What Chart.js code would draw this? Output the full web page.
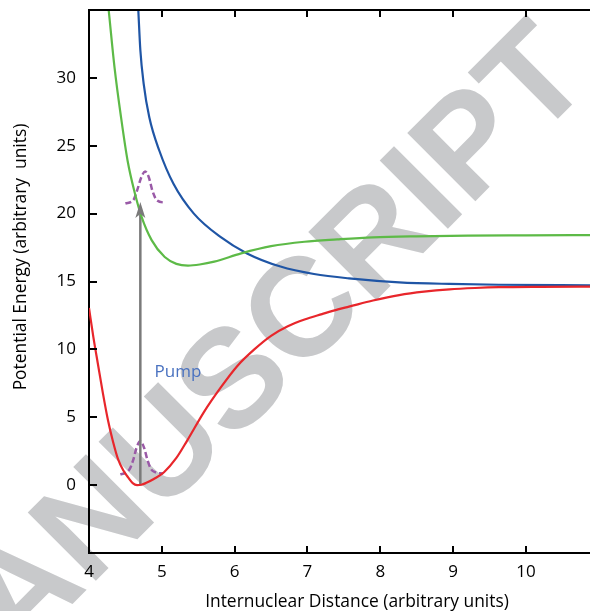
<!DOCTYPE html>
<html>
<head>
<meta charset="utf-8">
<script src="https://cdn.jsdelivr.net/npm/chart.js@4.4.1/dist/chart.umd.min.js"></script>
<style>
  html, body { margin: 0; padding: 0; background: #fff; }
  #wrap { width: 590px; height: 611px; }
</style>
</head>
<body>
<div id="wrap"><canvas id="chart"></canvas></div>
<script>
// Axis ticks
const xTicks = [4, 5, 6, 7, 8, 9, 10];
const yTicks = [0, 5, 10, 15, 20, 25, 30];

// Ground state (red)
const redX = [4.0, 4.06, 4.12, 4.19, 4.26, 4.33, 4.40, 4.47, 4.54, 4.60, 4.66, 4.72, 4.78, 4.89, 5.03, 5.2, 5.35, 5.58, 5.81, 6.04, 6.27, 6.50, 6.73, 6.96, 7.20, 7.42, 7.57, 7.9, 8.26, 8.6, 8.95, 9.3, 9.63, 10.2, 10.88];
const redY = [13.05, 10.9, 9.0, 6.8, 4.8, 3.2, 1.9, 1.1, 0.55, 0.15, 0.0, 0.03, 0.15, 0.45, 0.95, 2.0, 3.3, 5.4, 7.2, 8.8, 10.0, 11.0, 11.7, 12.2, 12.6, 12.95, 13.15, 13.6, 14.0, 14.25, 14.42, 14.52, 14.58, 14.61, 14.62];

// Excited state, bound (green)
const greenX = [4.25, 4.27, 4.35, 4.44, 4.53, 4.63, 4.72, 4.86, 5.04, 5.20, 5.36, 5.52, 5.72, 6.09, 6.50, 6.96, 7.41, 7.9, 8.5, 9.2, 10.0, 10.88];
const greenY = [36.0, 35.0, 30.8, 27.1, 23.9, 21.5, 19.8, 18.05, 16.8, 16.3, 16.17, 16.25, 16.46, 17.07, 17.6, 17.93, 18.1, 18.25, 18.33, 18.38, 18.4, 18.42];

// Excited state, repulsive (blue)
const blueX = [4.665, 4.677, 4.705, 4.75, 4.828, 4.965, 5.16, 5.44, 5.80, 6.17, 6.63, 7.09, 7.57, 8.26, 8.95, 9.63, 10.88];
const blueY = [36.3, 35.0, 32.05, 29.6, 27.1, 24.65, 22.2, 20.0, 18.3, 17.07, 16.1, 15.55, 15.23, 14.94, 14.82, 14.76, 14.72];

// Wavepackets (purple dashed)
const packetLowX = [4.43, 4.50, 4.56, 4.61, 4.65, 4.705, 4.76, 4.80, 4.85, 4.91, 5.02];
const packetLowY = [0.8, 0.9, 1.2, 1.9, 2.7, 3.25, 2.7, 1.9, 1.2, 0.95, 0.85];
const packetUpX = [4.50, 4.61, 4.66, 4.72, 4.77, 4.82, 4.87, 4.93, 5.05];
const packetUpY = [20.75, 21.0, 21.7, 22.7, 23.1, 22.7, 21.7, 21.0, 20.8];

// Pump arrow
const arrowX = 4.705;
const arrowFrom = 0;
const arrowTo = 20.85;

const pumpLabel = { text: "Pump", x: 4.9, y: 8.0 };

const FONT = '"Open Sans", "Noto Sans", sans-serif';

function pts(xs, ys) {
  return xs.map((x, i) => ({ x: x, y: ys[i] }));
}

// Watermark behind everything
const watermark = {
  id: "watermark",
  beforeDraw(chart) {
    const ctx = chart.ctx;
    ctx.save();
    ctx.translate(238, 384);
    ctx.rotate(-45 * Math.PI / 180);
    ctx.fillStyle = "#c8c9cb";
    ctx.font = 'bold 140px "Liberation Sans", Arial, sans-serif';
    ctx.textAlign = "center";
    ctx.textBaseline = "middle";
    ctx.fillText("MANUSCRIPT", 0, 0);
    ctx.restore();
  },
};

// Frame, inward ticks, arrow, labels
const decorations = {
  id: "decorations",
  afterDraw(chart) {
    const ctx = chart.ctx;
    const a = chart.chartArea;
    const xs = chart.scales.x;
    const ys = chart.scales.y;
    ctx.save();
    ctx.strokeStyle = "#000";
    ctx.lineWidth = 2;

    // top border
    ctx.beginPath();
    ctx.moveTo(a.left - 1, a.top);
    ctx.lineTo(a.right, a.top);
    ctx.stroke();

    // inward ticks
    ctx.beginPath();
    xTicks.forEach((v) => {
      if (v === xTicks[0]) return;
      const px = Math.round(xs.getPixelForValue(v));
      ctx.moveTo(px, a.bottom);
      ctx.lineTo(px, a.bottom - 7);
      ctx.moveTo(px, a.top);
      ctx.lineTo(px, a.top + 7);
    });
    yTicks.forEach((v) => {
      const py = Math.round(ys.getPixelForValue(v));
      ctx.moveTo(a.left, py);
      ctx.lineTo(a.left + 8, py);
    });
    ctx.stroke();

    // arrowhead
    const ax = xs.getPixelForValue(arrowX);
    const tip = ys.getPixelForValue(arrowTo);
    ctx.fillStyle = "#7a7a7a";
    ctx.beginPath();
    ctx.moveTo(ax, tip);
    ctx.lineTo(ax + 5, tip + 16);
    ctx.lineTo(ax, tip + 12);
    ctx.lineTo(ax - 5, tip + 16);
    ctx.closePath();
    ctx.fill();

    // pump label
    ctx.fillStyle = "#4a72c0";
    ctx.font = "17px " + FONT;
    ctx.textAlign = "left";
    ctx.textBaseline = "alphabetic";
    ctx.fillText(pumpLabel.text, xs.getPixelForValue(pumpLabel.x), ys.getPixelForValue(pumpLabel.y));

    // axis titles
    ctx.fillStyle = "#000";
    ctx.font = "17.4px " + FONT;
    ctx.textAlign = "center";
    ctx.textBaseline = "middle";
    ctx.fillText("Internuclear Distance (arbitrary units)", 357, 602);
    ctx.save();
    ctx.translate(21, 257);
    ctx.rotate(-Math.PI / 2);
    ctx.fillText("Potential Energy (arbitrary  units)", 0, 0);
    ctx.restore();

    ctx.restore();
  },
};

const lineBase = {
  type: "line",
  pointRadius: 0,
  fill: false,
  cubicInterpolationMode: "monotone",
};

new Chart(document.getElementById("chart"), {
  type: "scatter",
  data: {
    datasets: [
      Object.assign({}, lineBase, { data: pts(redX, redY), borderColor: "#e8262b", borderWidth: 2.2 }),
      Object.assign({}, lineBase, { data: pts(greenX, greenY), borderColor: "#5dba47", borderWidth: 2.2 }),
      Object.assign({}, lineBase, { data: pts(blueX, blueY), borderColor: "#1f55a5", borderWidth: 2.2 }),
      Object.assign({}, lineBase, {
        data: [{ x: arrowX, y: arrowFrom }, { x: arrowX, y: arrowTo - 0.9 }],
        borderColor: "#7a7a7a",
        borderWidth: 2.5,
        cubicInterpolationMode: "default",
        tension: 0,
      }),
      Object.assign({}, lineBase, { data: pts(packetLowX, packetLowY), borderColor: "#9a5aa7", borderWidth: 2.5, borderDash: [6, 3] }),
      Object.assign({}, lineBase, { data: pts(packetUpX, packetUpY), borderColor: "#9a5aa7", borderWidth: 2.5, borderDash: [6, 3] }),
    ],
  },
  options: {
    responsive: true,
    maintainAspectRatio: false,
    animation: false,
    showLine: true,
    layout: { padding: { top: 10, right: 0, left: 0, bottom: 0 } },
    plugins: {
      legend: { display: false },
      tooltip: { enabled: false },
    },
    scales: {
      x: {
        type: "linear",
        min: 4,
        max: 10.88,
        afterBuildTicks: (scale) => {
          scale.ticks = xTicks.map((v) => ({ value: v }));
        },
        afterFit: (scale) => {
          scale.height = 58;
          scale.paddingLeft = 0;
          scale.paddingRight = 0;
        },
        grid: { display: false, drawTicks: false },
        border: { display: true, color: "#000", width: 2 },
        ticks: {
          color: "#000",
          padding: 9,
          maxRotation: 0,
          font: { family: FONT, size: 17 },
        },
      },
      y: {
        type: "linear",
        min: -5,
        max: 35,
        afterBuildTicks: (scale) => {
          scale.ticks = yTicks.map((v) => ({ value: v }));
        },
        afterFit: (scale) => {
          scale.width = 89;
          scale.paddingTop = 0;
          scale.paddingBottom = 0;
        },
        grid: { display: false, drawTicks: false },
        border: { display: true, color: "#000", width: 2 },
        ticks: {
          color: "#000",
          padding: 13,
          font: { family: FONT, size: 17 },
        },
      },
    },
  },
  plugins: [watermark, decorations],
});
</script>
</body>
</html>
